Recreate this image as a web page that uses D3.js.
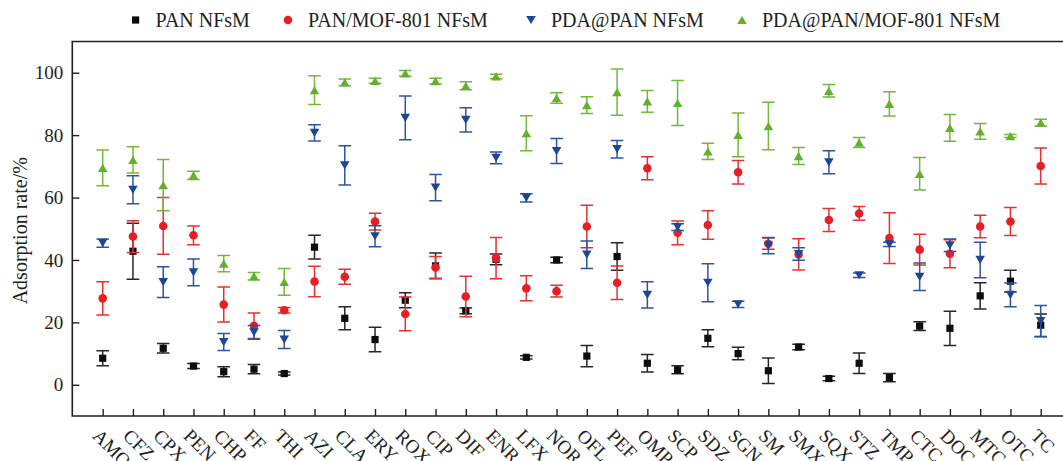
<!DOCTYPE HTML>
<meta charset="utf-8">
<html>
	<head>
		<script src="https://d3js.org/d3.v7.min.js"></script>
		<style>
			body
			{
				margin: 0;
				background: #fff;
			}
			text
			{
				font-family: 'Liberation Serif', 'DejaVu Serif', serif;
				fill: #231f20;
			}
		</style>
	</head>
	<body>

		<svg width="1063" height="461"></svg>

		<script>

		// Data

		var categories = ["AMO", "CFZ", "CPX", "PEN", "CHP", "FF", "THI", "AZI", "CLA", "ERY", "ROX", "CIP", "DIF", "ENR", "LFX", "NOR",
			"OFL", "PEF", "OMP", "SCP", "SDZ", "SGN", "SM", "SMX", "SQX", "STZ", "TMP", "CTC", "DOC", "MTC", "OTC", "TC"];

		var panMean = [8.5, 42.8, 11.7, 6.0, 4.2, 5.0, 3.6, 44.1, 21.3, 14.5, 27.1, 38.1, 23.7, 40.2, 8.8, 40.0,
			9.2, 41.1, 6.9, 4.8, 14.9, 10.0, 4.5, 12.1, 2.0, 6.9, 2.3, 18.8, 18.1, 28.5, 33.2, 19.1];
		var panErr = [2.4, 9.0, 1.5, 0.8, 1.6, 1.5, 0.5, 3.8, 3.7, 3.9, 2.4, 4.1, 0.9, 1.7, 0.5, 0.9,
			3.4, 4.4, 2.8, 1.3, 2.7, 2.0, 4.1, 0.9, 0.7, 3.3, 1.3, 1.4, 5.5, 4.2, 3.5, 3.6];

		var mofMean = [27.7, 47.5, 50.9, 47.9, 25.7, 18.9, 23.9, 33.1, 34.6, 52.3, 22.7, 37.6, 28.3, 40.6, 30.9, 30.0,
			50.7, 32.7, 69.4, 48.7, 51.2, 68.1, 45.2, 41.8, 52.8, 54.9, 47.0, 43.3, 42.0, 50.7, 52.3, 70.1];
		var mofErr = [5.3, 5.1, 9.1, 3.0, 5.6, 4.1, 0.9, 4.9, 2.4, 2.7, 5.4, 3.5, 6.5, 6.6, 4.0, 1.9,
			6.8, 5.4, 3.7, 3.8, 4.6, 3.8, 1.8, 5.0, 3.7, 2.2, 8.1, 4.9, 4.5, 3.6, 4.5, 5.8];

		var pdaMean = [45.4, 62.5, 32.9, 36.0, 13.7, 16.8, 14.5, 80.7, 70.3, 47.6, 85.5, 63.2, 84.9, 72.7, 59.9, 74.9,
			41.7, 75.5, 28.8, 50.5, 32.7, 25.8, 44.6, 41.9, 71.3, 35.1, 45.0, 34.6, 44.7, 40.0, 28.8, 20.4];
		var pdaErr = [1.3, 4.5, 4.9, 4.3, 2.7, 2.2, 2.9, 2.6, 6.3, 3.4, 7.0, 4.2, 3.9, 1.9, 1.3, 4.0,
			4.4, 2.8, 4.2, 1.1, 6.1, 1.0, 2.6, 2.0, 3.7, 0.7, 0.7, 4.4, 2.0, 5.7, 3.8, 5.0];

		var pdaMofMean = [69.5, 72.1, 64.0, 67.1, 38.8, 34.8, 33.0, 94.4, 96.9, 97.4, 99.8, 97.3, 95.8, 98.8, 80.6, 91.9,
			89.6, 93.8, 90.8, 90.3, 74.8, 80.1, 82.9, 73.3, 94.2, 77.6, 90.0, 67.6, 82.3, 81.2, 79.7, 84.0];
		var pdaMofErr = [5.7, 4.2, 8.2, 1.3, 2.6, 1.2, 4.3, 4.6, 1.1, 0.8, 0.9, 0.9, 1.3, 0.7, 5.6, 1.7,
			2.7, 7.4, 3.5, 7.2, 2.6, 7.0, 7.6, 2.7, 2.0, 1.6, 3.9, 5.2, 4.3, 2.5, 0.5, 1.1];

		var yTicks = [0, 20, 40, 60, 80, 100];

		var series = [
			{ name: "PAN NFsM", mean: panMean, err: panErr, shape: "square", fill: "#0d0d0d", bar: "#2b2626" },
			{ name: "PAN/MOF-801 NFsM", mean: mofMean, err: mofErr, shape: "circle", fill: "#e51f24", bar: "#e8312f" },
			{ name: "PDA@PAN NFsM", mean: pdaMean, err: pdaErr, shape: "down", fill: "#1c4696", bar: "#2a55a3" },
			{ name: "PDA@PAN/MOF-801 NFsM", mean: pdaMofMean, err: pdaMofErr, shape: "up", fill: "#62b02c", bar: "#72b93a" }
		];

		// Chart

		var canvas = d3.select("svg");
		var plotLeft = 72.3, plotTop = 41.5, plotBottom = 416, plotRight = 1070;

		var x = d3.scalePoint()
				.domain(categories)
				.range([102.7, 1040.7]);

		var y = d3.scaleLinear()
				.domain([-10, 110])
				.range([plotBottom, plotTop]);

		// frame
		canvas.append("path")
				.attr("d", "M" + plotRight + "," + plotTop + "H" + plotLeft + "V" + plotBottom + "H" + plotRight)
				.attr("fill", "none")
				.attr("stroke", "#231f20")
				.attr("stroke-width", 1.6);

		var xAxis = canvas.append("g")
				.attr("transform", "translate(0," + plotBottom + ")")
				.call(d3.axisBottom(x).tickSizeInner(-7).tickSizeOuter(0).tickFormat(""));
		xAxis.select(".domain").remove();
		xAxis.selectAll("line").attr("stroke", "#231f20").attr("stroke-width", 1.4);

		canvas.append("g").selectAll("text")
				.data(categories)
			.enter().append("text")
				.attr("transform", function(d) { return "translate(" + (x(d) - 11) + "," + (plotBottom + 21) + ") rotate(45)"; })
				.attr("font-size", 19)
				.text(function(d) { return d; });

		var yAxis = canvas.append("g")
				.attr("transform", "translate(" + plotLeft + ",0)")
				.call(d3.axisLeft(y).tickValues(yTicks).tickSizeInner(-7).tickSizeOuter(0).tickPadding(9));
		yAxis.select(".domain").remove();
		yAxis.selectAll("line").attr("stroke", "#231f20").attr("stroke-width", 1.4);
		yAxis.selectAll("text")
				.attr("font-size", 19)
				.attr("font-family", "'Liberation Serif', serif")
				.attr("fill", "#231f20");

		canvas.append("text")
				.attr("transform", "translate(27," + ((plotTop + plotBottom) / 2 + 2) + ") rotate(-90)")
				.attr("text-anchor", "middle")
				.attr("font-size", 20)
				.text("Adsorption rate/%");

		function marker(sel, shape, fill)
		{
			if (shape == "square")
			{
				sel.append("rect").attr("x", -3.6).attr("y", -3.6).attr("width", 7.2).attr("height", 7.2).attr("fill", fill);
			}
			else if (shape == "circle")
			{
				sel.append("circle").attr("r", 4.3).attr("fill", fill);
			}
			else if (shape == "down")
			{
				sel.append("path").attr("d", "M-4.8,-4.1L4.8,-4.1L0,4.1Z").attr("fill", fill);
			}
			else
			{
				sel.append("path").attr("d", "M-4.8,4.1L4.8,4.1L0,-4.1Z").attr("fill", fill);
			}
		}

		// error bars and points, drawn in series order
		series.forEach(function(s)
		{
			var g = canvas.append("g");
			var pts = g.selectAll("g")
					.data(categories.map(function(c, i) { return { c: c, m: s.mean[i], e: s.err[i] }; }))
				.enter().append("g");

			pts.append("path")
					.attr("d", function(d)
					{
						var cx = x(d.c), y0 = y(d.m - d.e), y1 = y(d.m + d.e);
						return "M" + (cx - 6.3) + "," + y1 + "H" + (cx + 6.3) +
							"M" + cx + "," + y1 + "V" + y0 +
							"M" + (cx - 6.3) + "," + y0 + "H" + (cx + 6.3);
					})
					.attr("fill", "none")
					.attr("stroke", s.bar)
					.attr("stroke-width", 1.5);

			pts.append("g")
					.attr("transform", function(d) { return "translate(" + x(d.c) + "," + y(d.m) + ")"; })
					.each(function() { marker(d3.select(this), s.shape, s.fill); });
		});

		// legend
		var legendSymbolX = [135.6, 288, 531, 742];
		var legend = canvas.append("g").selectAll("g")
				.data(series)
			.enter().append("g")
				.attr("transform", function(d, i) { return "translate(" + legendSymbolX[i] + ",20)"; });

		legend.each(function(d) { marker(d3.select(this), d.shape, d.fill); });

		legend.append("text")
				.attr("x", 20)
				.attr("y", 6.5)
				.attr("font-size", 20)
				.text(function(d) { return d.name; });

		</script>
	</body>
</html>
